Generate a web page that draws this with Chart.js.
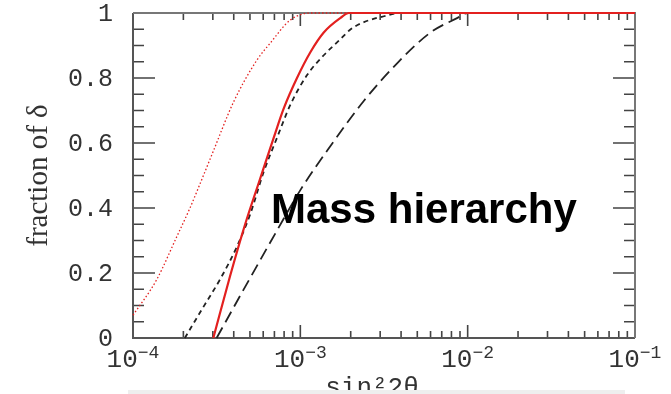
<!DOCTYPE html>
<html>
<head>
<meta charset="utf-8">
<script src="https://cdn.jsdelivr.net/npm/chart.js@4.4.0/dist/chart.umd.min.js"></script>
<style>
  html, body { margin: 0; padding: 0; background: #fff; }
</style>
</head>
<body>
<canvas id="chart" width="671" height="394"></canvas>
<script>
// ---------- Data ----------
const xTickValues = [1e-4, 1e-3, 1e-2, 1e-1];
const xTickExps = ["-4", "-3", "-2", "-1"];
const xMinorSteps = [2, 3, 4, 5, 6, 7, 8, 9];
const yTickValues = [0, 0.2, 0.4, 0.6, 0.8, 1];
const yTickLabels = ["0", "0.2", "0.4", "0.6", "0.8", "1"];
const yMinorValues = [0.05, 0.1, 0.15, 0.25, 0.3, 0.35, 0.45, 0.5, 0.55, 0.65, 0.7, 0.75, 0.85, 0.9, 0.95];

// red solid
const solidX = [3.02e-4, 3.8e-4, 4.68e-4, 5.75e-4, 6.92e-4, 7.94e-4, 9.55e-4, 1.15e-3, 1.38e-3, 1.74e-3, 1.95e-3, 1e-2, 1e-1];
const solidY = [0, 0.19, 0.35, 0.49, 0.615, 0.705, 0.80, 0.88, 0.94, 0.985, 1, 1, 1];

// red dotted
const dottedX = [1.0e-4, 1.38e-4, 1.82e-4, 2.19e-4, 2.45e-4, 3.02e-4, 3.98e-4, 5.5e-4, 6.6e-4, 8.7e-4, 1.15e-3, 1e-2, 1e-1];
const dottedY = [0.07, 0.178, 0.31, 0.40, 0.46, 0.575, 0.725, 0.855, 0.907, 0.978, 1, 1, 1];

// black short dash
const shortX = [2.04e-4, 2.63e-4, 3.31e-4, 4.17e-4, 5.01e-4, 6.03e-4, 7.24e-4, 8.71e-4, 1.10e-3, 1.38e-3, 1.74e-3, 2.0e-3, 2.4e-3, 3.16e-3, 3.98e-3, 1e-2, 1e-1];
const shortY = [0, 0.095, 0.18, 0.28, 0.38, 0.51, 0.615, 0.717, 0.81, 0.87, 0.92, 0.95, 0.972, 0.99, 1, 1, 1];

// black long dash
const longX = [3.16e-4, 4.57e-4, 7.24e-4, 1.0e-3, 1.51e-3, 2.4e-3, 3.8e-3, 6.0e-3, 8.7e-3, 1.0e-2, 1e-1];
const longY = [0, 0.148, 0.33, 0.455, 0.59, 0.73, 0.846, 0.94, 0.985, 1, 1];

const toPoints = (xs, ys) => xs.map((x, i) => ({ x: x, y: ys[i] }));

// ---------- Frame, ticks and texts ----------
const framePlugin = {
  id: "frame",
  beforeDatasetsDraw(chart) {
    const { ctx, chartArea: a, scales: { x, y } } = chart;
    ctx.save();
    ctx.lineCap = "butt";

    // ticks (inward on all four sides)
    ctx.strokeStyle = "#444";
    ctx.lineWidth = 1.6;
    ctx.beginPath();
    xTickValues.forEach((d, i) => {
      const px = x.getPixelForValue(d);
      ctx.moveTo(px, a.bottom); ctx.lineTo(px, a.bottom - 13);
      ctx.moveTo(px, a.top); ctx.lineTo(px, a.top + 13);
      if (i === xTickValues.length - 1) return;
      xMinorSteps.forEach(m => {
        const pm = x.getPixelForValue(d * m);
        ctx.moveTo(pm, a.bottom); ctx.lineTo(pm, a.bottom - 7);
        ctx.moveTo(pm, a.top); ctx.lineTo(pm, a.top + 7);
      });
    });
    yTickValues.forEach(v => {
      const py = y.getPixelForValue(v);
      ctx.moveTo(a.left, py); ctx.lineTo(a.left + 22, py);
      ctx.moveTo(a.right, py); ctx.lineTo(a.right - 22, py);
    });
    yMinorValues.forEach(v => {
      const py = y.getPixelForValue(v);
      ctx.moveTo(a.left, py); ctx.lineTo(a.left + 11, py);
      ctx.moveTo(a.right, py); ctx.lineTo(a.right - 11, py);
    });
    ctx.stroke();

    // frame
    ctx.lineWidth = 2;
    ctx.strokeStyle = "#555";
    ctx.beginPath();
    ctx.moveTo(a.left, a.top); ctx.lineTo(a.left, a.bottom); ctx.lineTo(a.right, a.bottom);
    ctx.stroke();
    ctx.strokeStyle = "#777";
    ctx.beginPath();
    ctx.moveTo(a.left, a.top); ctx.lineTo(a.right, a.top); ctx.lineTo(a.right, a.bottom);
    ctx.stroke();
    ctx.restore();
  },
  afterDraw(chart) {
    const { ctx, chartArea: a, scales: { x, y } } = chart;
    ctx.save();
    ctx.fillStyle = "#333";

    // y tick labels
    ctx.font = "25px 'Liberation Mono'";
    ctx.textAlign = "right";
    ctx.textBaseline = "middle";
    yTickValues.forEach((v, i) => {
      ctx.fillText(yTickLabels[i], a.left - 20, y.getPixelForValue(v) + 1);
    });

    // x tick labels: 10 with superscript exponent
    ctx.textBaseline = "alphabetic";
    ctx.textAlign = "left";
    xTickValues.forEach((d, i) => {
      const px = x.getPixelForValue(d);
      const exp = xTickExps[i].replace("-", "\u2212");
      ctx.font = "26px 'Liberation Mono'";
      const wBase = ctx.measureText("10").width;
      ctx.font = "18px 'Liberation Mono'";
      const wExp = ctx.measureText(exp).width;
      const start = px - (wBase + wExp) / 2;
      ctx.font = "26px 'Liberation Mono'";
      ctx.fillText("10", start, a.bottom + 29);
      ctx.font = "18px 'Liberation Mono'";
      ctx.fillText(exp, start + wBase, a.bottom + 20);
    });

    // x title (cut by the bottom strip, as in the original)
    ctx.textAlign = "center";
    ctx.font = "26px 'Liberation Mono'";
    ctx.fillText("sin\u00b22\u03b8", 372, 395);
    ctx.fillStyle = "#eeeeee";
    ctx.fillRect(128, 390, 497, 4);

    // y title
    ctx.fillStyle = "#333";
    ctx.save();
    ctx.translate(47, (a.top + a.bottom) / 2);
    ctx.rotate(-Math.PI / 2);
    ctx.font = "29px 'Liberation Serif'";
    ctx.textAlign = "center";
    ctx.fillText("fraction of \u03b4", 0, 0);
    ctx.restore();

    // annotation
    ctx.fillStyle = "#000";
    ctx.textAlign = "left";
    ctx.font = "bold 42px 'Liberation Sans'";
    ctx.fillText("Mass hierarchy", 271, 223);
    ctx.restore();
  }
};

// ---------- Chart ----------
const red = "#e3201f";

new Chart(document.getElementById("chart"), {
  type: "line",
  data: {
    datasets: [
      {
        label: "solid",
        data: toPoints(solidX, solidY),
        borderColor: red,
        borderWidth: 2.2
      },
      {
        label: "dotted",
        data: toPoints(dottedX, dottedY),
        borderColor: red,
        borderWidth: 1.3,
        borderDash: [1.5, 2.2]
      },
      {
        label: "short dash",
        data: toPoints(shortX, shortY),
        borderColor: "#222",
        borderWidth: 1.8,
        borderDash: [5, 4]
      },
      {
        label: "long dash",
        data: toPoints(longX, longY),
        borderColor: "#222",
        borderWidth: 1.8,
        borderDash: [12, 6]
      }
    ]
  },
  options: {
    responsive: false,
    animation: false,
    devicePixelRatio: 1,
    layout: { padding: { top: 13, right: 36, left: 0, bottom: 0 } },
    elements: {
      point: { radius: 0 },
      line: { cubicInterpolationMode: "monotone", fill: false }
    },
    datasets: { line: { clip: false } },
    plugins: { legend: { display: false }, tooltip: { enabled: false } },
    scales: {
      x: {
        type: "logarithmic",
        min: 1e-4,
        max: 1e-1,
        grid: { display: false, drawTicks: false },
        border: { display: false },
        ticks: { display: false },
        afterBuildTicks: s => { s.ticks = xTickValues.map(v => ({ value: v })); },
        afterFit: s => { s.height = 56; }
      },
      y: {
        min: 0,
        max: 1,
        grid: { display: false, drawTicks: false },
        border: { display: false },
        ticks: { display: false },
        afterBuildTicks: s => { s.ticks = yTickValues.map(v => ({ value: v })); },
        afterFit: s => { s.width = 133; }
      }
    }
  },
  plugins: [framePlugin]
});
</script>
</body>
</html>
